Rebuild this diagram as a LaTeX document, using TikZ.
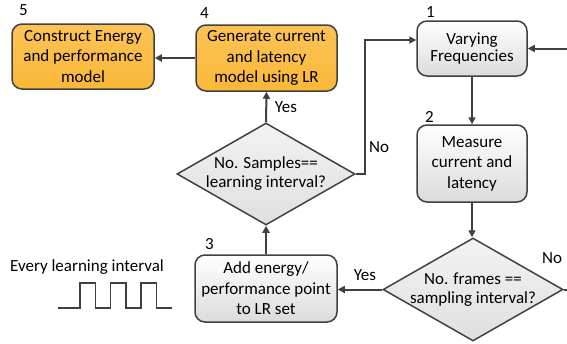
\documentclass[tikz,border=0pt]{standalone}
\usepackage{fontspec}
\setmainfont{Carlito}
\usetikzlibrary{shapes.geometric,arrows.meta}
\definecolor{boxorange}{HTML}{FBB838}
\definecolor{lineg}{HTML}{404040}

\begin{document}
\begin{tikzpicture}[
    x=1pt, y=-1pt,
    every node/.style={font=\fontsize{17}{20.5}\selectfont, align=center},
    stepbox/.style={draw=lineg, line width=1.5pt, rounded corners=10pt, inner sep=2pt},
    modelbox/.style={stepbox, top color=boxorange!85!white, bottom color=boxorange},
    measbox/.style={stepbox, top color=white, bottom color=gray!28},
    check/.style={diamond, draw=lineg, line width=1.5pt, top color=gray!10, bottom color=gray!25,
        inner xsep=-58pt, inner ysep=-15pt, font=\fontsize{17}{19}\selectfont},
    flow/.style={draw=lineg, line width=2pt, -{Triangle[length=7pt,width=7pt]}},
    num/.style={anchor=base west, inner sep=0pt},
    answer/.style={inner sep=0pt}
]
\useasboundingbox (0,0) rectangle (567,343);

% steps of the loop
\node[measbox, minimum width=110pt, minimum height=55pt] (vf) at (472,48.5) {Varying\\[-3pt]Frequencies};
\node[measbox, minimum width=110pt, minimum height=77pt] (meas) at (472,163.5) {Measure\\current and\\latency};
\node[check, minimum width=180pt, minimum height=103pt] (sampchk) at (473,289.5) {No. frames ==\\sampling interval?};
\node[measbox, minimum width=142pt, minimum height=67pt] (addpt) at (266,288.5) {Add energy/\\performance point\\to LR set};
\node[check, minimum width=178pt, minimum height=102pt] (learnchk) at (266,174) {No. Samples==\\learning interval?};
\node[modelbox, minimum width=141pt, minimum height=66pt] (gen) at (266.5,58) {Generate current\\and latency\\model using LR};
\node[modelbox, minimum width=142pt, minimum height=65pt] (cons) at (83,56.5) {Construct Energy\\and performance\\model};

% step numbers
\node[num] (n1) at (426,17) {1};
\node[num] (n2) at (425,122) {2};
\node[num] (n3) at (205,249) {3};
\node[num] (n4) at (200,18) {4};
\node[num] (n5) at (19,15) {5};

% loop ends leaving the frame
\coordinate (loopin) at (567,48.5);
\coordinate (loopout) at (567,289.5);

\draw[flow] (vf.south) -- (meas.north);
\draw[flow] (meas.south) -- (meas.south |- sampchk.north);
\draw[flow] (sampchk.west) -- (sampchk.west -| addpt.east);
\draw[flow] (addpt.north) -- (learnchk.south);
\draw[flow] (learnchk.north) -- (gen.south);
\draw[flow] (gen.west) -- (gen.west -| cons.east);
\draw[flow] (learnchk.east) -- ++(9,0) |- ([yshift=8.5pt]vf.west);
\draw[flow] (loopin) -- (vf.east);
\draw[draw=lineg, line width=2pt] (sampchk.east) -- (loopout);

\node[answer] (yes1) at (286,107) {Yes};
\node[answer] (no1) at (379,147) {No};
\node[answer] (no2) at (552,258) {No};
\node[answer] (yes2) at (365,275) {Yes};

% clock
\node (clk) at (87,267) {Every learning interval};
\draw[lineg, line width=1.5pt] (58,308)
    foreach \x in {80,110.5,141} { -- (\x,308) -- (\x,283) -- (\x+15.5,283) -- (\x+15.5,308) }
    -- (172,308);
\end{tikzpicture}
\end{document}
